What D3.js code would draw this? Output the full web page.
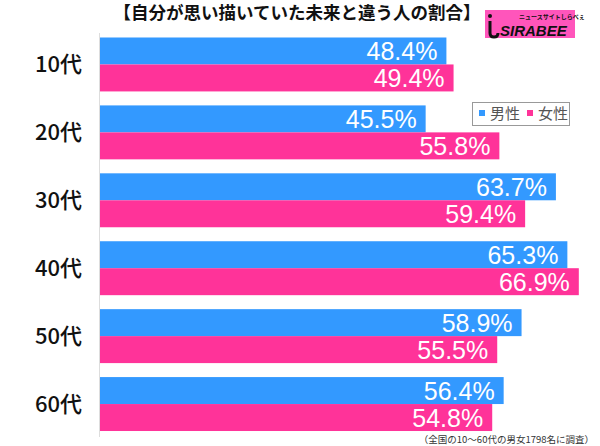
<!DOCTYPE html>
<html><head><meta charset="utf-8">
<script src="https://cdn.jsdelivr.net/npm/d3@7"></script>
<style>body{margin:0;background:#fff}svg{display:block}</style>
</head><body>
<svg id="c" width="600" height="446"></svg>
<script>
const categories = ["10代","20代","30代","40代","50代","60代"];
const male = [48.4, 45.5, 63.7, 65.3, 58.9, 56.4];
const female = [49.4, 55.8, 59.4, 66.9, 55.5, 54.8];
const seriesNames = ["男性","女性"];
const colors = ["#3399ff","#ff3399"];
const title = "【自分が思い描いていた未来と違う人の割合】";
const note = "（全国の10～60代の男女1798名に調査）";

const svg = d3.select("#c");
const x = d3.scaleLinear().domain([0,70]).range([100,601]);
const y2 = d3.scaleBand().domain(categories).range([37.5 - 7, 431 + 7]).paddingInner(14/68).paddingOuter(0.5*14/68);
const sub = d3.scaleBand().domain([0,1]).range([0, y2.bandwidth()]);

// title
svg.append("text").attr("x",297).attr("y",19).attr("text-anchor","middle")
  .attr("font-family","'Noto Sans CJK JP', sans-serif").attr("font-weight","700")
  .attr("font-size",17.5).attr("fill","#111").text(title);

// logo
const logo = svg.append("g");
logo.append("rect").attr("x",485).attr("y",10).attr("width",90).attr("height",28).attr("fill","#ff55bb");
logo.append("text").attr("x",519).attr("y",19).attr("font-family","'Noto Sans CJK JP',sans-serif")
  .attr("font-size",6).attr("font-weight",700).attr("fill","#111").text("ニュースサイトしらべぇ");
logo.append("text").attr("x",500).attr("y",36).attr("font-family","'Liberation Sans',Arial,sans-serif")
  .attr("font-size",15).attr("font-weight",700).attr("font-style","italic").attr("fill","#111").text("SIRABEE");
logo.append("circle").attr("cx",490).attr("cy",16).attr("r",2).attr("fill","#111");
logo.append("path").attr("d","M490,21 L490,33 Q490,37 494,37 Q498,37 498,33").attr("fill","none").attr("stroke","#111").attr("stroke-width",3);

const data = categories.map((c,i)=>({c, vals:[male[i], female[i]]}));
const g = svg.append("g");
data.forEach(d=>{
  d.vals.forEach((v,j)=>{
    const yy = y2(d.c) + sub(j);
    g.append("rect").attr("x",x(0)).attr("y",yy).attr("width",x(v)-x(0)).attr("height",sub.bandwidth())
      .attr("fill",colors[j]);
    g.append("text").attr("x",x(v)-9).attr("y",yy+sub.bandwidth()/2+9).attr("text-anchor","end")
      .attr("font-family","'Liberation Sans',Arial,sans-serif").attr("font-size",25)
      .attr("fill","#fff").text(v.toFixed(1)+"%");
  });
  svg.append("text").attr("x",82).attr("y",y2(d.c)+y2.bandwidth()/2+8).attr("text-anchor","end")
    .attr("font-family","'Noto Sans CJK JP',sans-serif").attr("font-weight",500).attr("font-size",22)
    .attr("fill","#111").text(d.c);
});

// axis line
svg.append("line").attr("x1",99.5).attr("x2",99.5).attr("y1",33).attr("y2",437).attr("stroke","#ddd").attr("stroke-width",1);

// legend
const lg = svg.append("g");
lg.append("rect").attr("x",472.5).attr("y",102.5).attr("width",97).attr("height",23).attr("fill","#fff").attr("stroke","#999");
seriesNames.forEach((n,i)=>{
  const lx = 479 + i*48;
  lg.append("rect").attr("x",lx).attr("y",110).attr("width",6).attr("height",6).attr("fill",colors[i]);
  lg.append("text").attr("x",lx+11).attr("y",119).attr("font-family","'Noto Sans CJK JP',sans-serif")
    .attr("font-size",15).attr("fill","#555").text(n);
});

// note
svg.append("text").attr("x",594).attr("y",443).attr("text-anchor","end")
  .attr("font-family","'Noto Sans CJK JP',sans-serif").attr("font-size",9.5).attr("fill","#333").text(note);
</script>
</body></html>
